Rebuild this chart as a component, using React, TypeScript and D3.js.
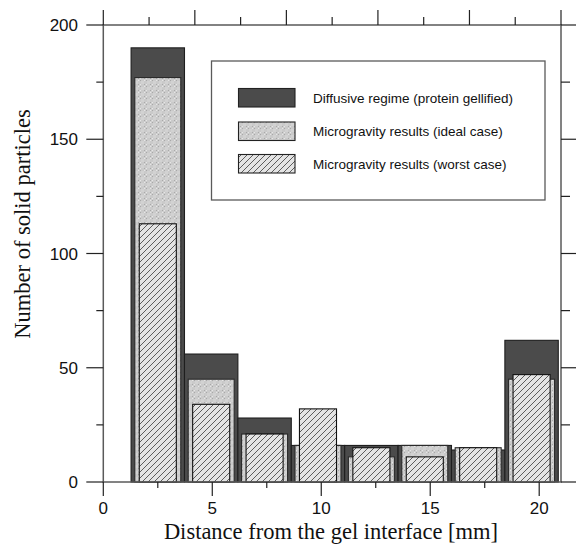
import React from "react";
import * as d3 from "d3";

// ---- data ----
const binCenters = [2.5, 4.95, 7.4, 9.85, 12.3, 14.75, 17.2, 19.65];
const diffusive = [190, 56, 28, 16, 16, 16, 14, 62];
const idealCase = [177, 45, 21, 16, 11, 16, 15, 45];
const worstCase = [113, 34, 21, 32, 15, 11, 15, 47];
const xTickLabels = [0, 5, 10, 15, 20];
const yTickLabels = [0, 50, 100, 150, 200];
const legendLabels = [
  "Diffusive regime (protein gellified)",
  "Microgravity results (ideal case)",
  "Microgravity results (worst case)",
];

const W = 576;
const H = 552;
const L = 103.3, R = 561, T = 25, B = 482;

export default function App() {
  const x = d3.scaleLinear().domain([0, 21]).range([L, R]);
  const y = d3.scaleLinear().domain([0, 200]).range([B, T]);
  const xTop = d3.scaleLinear().domain([0, 25]).range([L, R]);
  const xMinor = d3.range(0, 21, 2.5);
  const yMinor = d3.range(0, 201, 25);
  const topTicks = d3.range(0, 25.01, 2.5);

  const series = [
    { vals: diffusive, w: 2.45, fill: "#4b4b4b", stroke: "#1e1e1e" },
    { vals: idealCase, w: 2.11, fill: "url(#dots)", stroke: "#2a2a2a" },
    { vals: worstCase, w: 1.7, fill: "url(#hatch)", stroke: "#111" },
  ];

  const legendFills = ["#4b4b4b", "url(#dots)", "url(#hatch)"];
  const legendY = [88.5, 122, 154.5];

  const tickStroke = "#222";
  const frameStroke = "#5a5a5a";

  return (
    <svg
      width={W}
      height={H}
      style={{ position: "absolute", left: 0, top: 0, background: "#fff" }}
    >
      <defs>
        <pattern id="dots" patternUnits="userSpaceOnUse" width="6" height="6">
          <rect width="6" height="6" fill="#cacaca" />
          <rect x="0" y="0" width="1.5" height="1.5" fill="#a8a8a8" />
          <rect x="1.5" y="1.5" width="1.5" height="1.5" fill="#a8a8a8" />
          <rect x="1.5" y="0" width="1.5" height="1.5" fill="#e6e6e6" />
          <rect x="0" y="1.5" width="1.5" height="1.5" fill="#e6e6e6" />
          <rect x="3" y="3" width="3" height="3" fill="#d2d2d2" />
        </pattern>
        <pattern id="hatch" patternUnits="userSpaceOnUse" width="6" height="6">
          <rect width="6" height="6" fill="#e4e4e4" />
          <path
            d="M0,6 L6,0 M-1.5,1.5 L1.5,-1.5 M4.5,7.5 L7.5,4.5"
            stroke="#3a3a3a"
            strokeWidth="0.8"
          />
        </pattern>
      </defs>

      {/* bars */}
      {series.map((s, si) => (
        <g key={si}>
          {s.vals.map((v, i) => {
            const x0 = x(binCenters[i] - s.w / 2);
            const x1 = x(binCenters[i] + s.w / 2);
            return (
              <rect
                key={i}
                x={x0}
                y={y(v)}
                width={x1 - x0}
                height={y(0) - y(v)}
                fill={s.fill}
                stroke={s.stroke}
                strokeWidth={1.1}
              />
            );
          })}
        </g>
      ))}

      {/* frame */}
      <rect x={L} y={T} width={R - L} height={B - T} fill="none" stroke={frameStroke} strokeWidth={1.5} />

      {/* bottom ticks */}
      {xMinor.map((t, i) => {
        const major = t % 5 === 0;
        return (
          <line key={"bx" + i} x1={x(t)} x2={x(t)} y1={B} y2={B + (major ? 14 : 6)} stroke={tickStroke} strokeWidth={1.2} />
        );
      })}
      {/* top ticks */}
      {topTicks.map((t, i) => {
        const major = i % 2 === 0;
        return (
          <line key={"tx" + i} x1={xTop(t)} x2={xTop(t)} y1={T} y2={T - (major ? 15 : 8)} stroke={tickStroke} strokeWidth={1.2} />
        );
      })}
      {/* left ticks */}
      {yMinor.map((t, i) => {
        const major = t % 50 === 0;
        return (
          <line key={"ly" + i} x1={L} x2={L - (major ? 17 : 7)} y1={y(t)} y2={y(t)} stroke={tickStroke} strokeWidth={1.2} />
        );
      })}
      {/* right ticks */}
      {yMinor.map((t, i) => {
        const major = t % 50 === 0;
        return (
          <line key={"ry" + i} x1={R} x2={R + (major ? 15 : 9)} y1={y(t)} y2={y(t)} stroke={tickStroke} strokeWidth={1.2} />
        );
      })}

      {/* tick labels */}
      {xTickLabels.map((t) => (
        <text key={"xl" + t} x={x(t)} y={514} textAnchor="middle" fontFamily="'Liberation Sans', sans-serif" fontSize={17} fill="#111">
          {t}
        </text>
      ))}
      {yTickLabels.map((t) => (
        <text key={"yl" + t} x={78} y={y(t) + 6} textAnchor="end" fontFamily="'Liberation Sans', sans-serif" fontSize={17} fill="#111">
          {t}
        </text>
      ))}

      {/* axis titles */}
      <text x={331} y={539} textAnchor="middle" fontFamily="'Liberation Serif', serif" fontSize={22.5} fill="#111">
        Distance from the gel interface [mm]
      </text>
      <text
        transform={`translate(30,224) rotate(-90)`}
        textAnchor="middle"
        fontFamily="'Liberation Serif', serif"
        fontSize={22.5}
        fill="#111"
      >
        Number of solid particles
      </text>

      {/* legend */}
      <rect x={211.5} y={61} width={333.5} height={139} fill="#fff" stroke={frameStroke} strokeWidth={1.3} />
      {legendLabels.map((lab, i) => (
        <g key={"lg" + i}>
          <rect x={238.5} y={legendY[i]} width={56.5} height={18.5} fill={legendFills[i]} stroke="#222" strokeWidth={1.1} />
          <text x={313} y={legendY[i] + 14} fontFamily="'Liberation Sans', sans-serif" fontSize={13.5} fill="#111">
            {lab}
          </text>
        </g>
      ))}
    </svg>
  );
}
